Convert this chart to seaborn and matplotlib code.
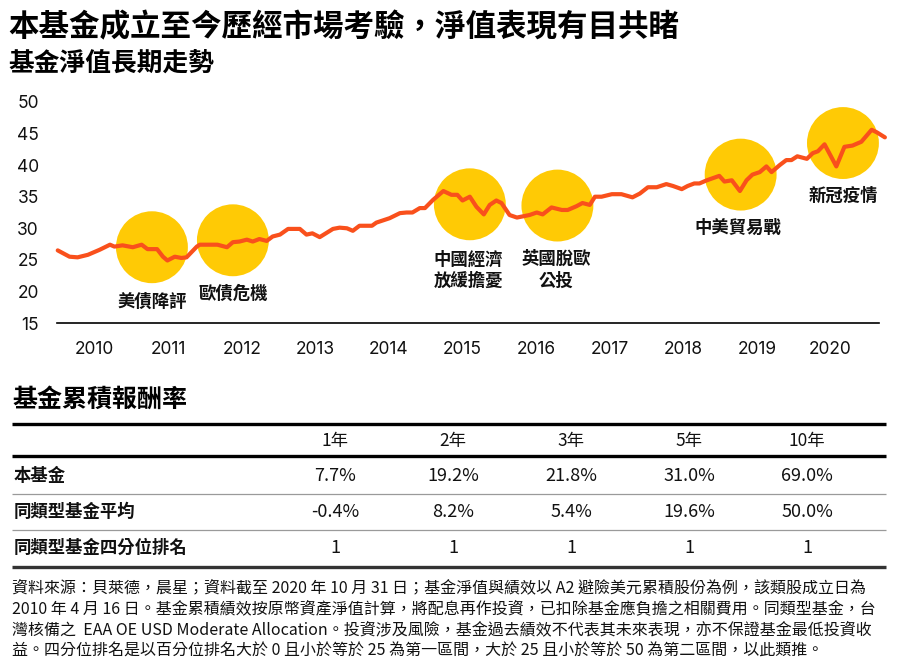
import numpy as np
import pandas as pd
import matplotlib.pyplot as plt
import seaborn as sns
from matplotlib.lines import Line2D

# fund NAV (x in chart years)
nav_year = [2010.00, 2010.16, 2010.27, 2010.41, 2010.57, 2010.71, 2010.77, 2010.88,
            2011.02, 2011.14, 2011.22, 2011.35, 2011.43, 2011.49, 2011.59, 2011.68,
            2011.75, 2011.89, 2011.93, 2012.17, 2012.30, 2012.38, 2012.47, 2012.57,
            2012.65, 2012.74, 2012.84, 2012.92, 2013.02, 2013.13, 2013.29, 2013.38,
            2013.46, 2013.56, 2013.74, 2013.83, 2013.93, 2014.01, 2014.10, 2014.27,
            2014.33, 2014.51, 2014.65, 2014.74, 2014.82, 2014.92, 2014.99, 2015.10,
            2015.24, 2015.35, 2015.43, 2015.50, 2015.60, 2015.69, 2015.79, 2015.87,
            2015.96, 2016.03, 2016.14, 2016.24, 2016.41, 2016.51, 2016.59, 2016.71,
            2016.85, 2016.93, 2017.05, 2017.13, 2017.23, 2017.30, 2017.39, 2017.53,
            2017.66, 2017.81, 2017.91, 2018.02, 2018.14, 2018.27, 2018.36, 2018.48,
            2018.56, 2018.65, 2018.72, 2018.82, 2018.99, 2019.06, 2019.16, 2019.27,
            2019.36, 2019.44, 2019.54, 2019.63, 2019.70, 2019.81, 2019.90, 2019.97,
            2020.05, 2020.18, 2020.26, 2020.33, 2020.42, 2020.58, 2020.69, 2020.80,
            2020.92, 2021.06, 2021.13, 2021.24]
nav_value = [26.5, 25.5, 25.4, 25.8, 26.6, 27.4, 27.1, 27.3,
             27.0, 27.4, 26.7, 26.7, 25.5, 24.9, 25.5, 25.3,
             25.4, 27.1, 27.4, 27.4, 27.0, 27.8, 27.9, 28.2,
             27.9, 28.3, 28.0, 28.7, 29.0, 29.9, 29.9, 29.0,
             29.2, 28.6, 29.9, 30.1, 30.0, 29.6, 30.4, 30.4,
             30.9, 31.6, 32.4, 32.5, 32.5, 33.2, 33.2, 34.5,
             35.9, 35.3, 35.3, 34.4, 35.0, 33.4, 32.2, 33.7,
             34.4, 34.0, 32.1, 31.7, 32.1, 32.5, 32.2, 33.3,
             32.9, 32.9, 33.5, 34.0, 33.7, 35.0, 35.0, 35.4,
             35.4, 34.9, 35.5, 36.5, 36.5, 37.0, 36.7, 36.2,
             36.7, 37.1, 37.1, 37.6, 38.3, 37.4, 37.6, 35.9,
             37.6, 38.5, 38.9, 39.8, 38.9, 40.0, 40.8, 40.8,
             41.4, 41.0, 41.9, 42.2, 43.3, 39.8, 42.9, 43.1,
             43.7, 45.6, 45.2, 44.4]

years = [2010, 2011, 2012, 2013, 2014, 2015, 2016, 2017, 2018, 2019, 2020]

event_names = ['美債降評', '歐債危機', '中國經濟\n放緩擔憂', '英國脫歐\n公投', '中美貿易戰', '新冠疫情']
event_year = [2011.28, 2012.38, 2015.60, 2016.79, 2019.28, 2020.67]
event_value = [27.0, 28.1, 33.8, 33.6, 38.5, 43.5]
label_year = [2011.28, 2012.38, 2015.58, 2016.77, 2019.24, 2020.67]
label_value = [18.3, 19.6, 23.4, 23.4, 30.0, 35.2]

periods = ['1年', '2年', '3年', '5年', '10年']
row_names = ['本基金', '同類型基金平均', '同類型基金四分位排名']
fund_ret = [7.7, 19.2, 21.8, 31.0, 69.0]
peer_avg = [-0.4, 8.2, 5.4, 19.6, 50.0]
quartile = [1, 1, 1, 1, 1]

footnote = [
    '資料來源：貝萊德，晨星；資料截至 2020 年 10 月 31 日；基金淨值與績效以 A2 避險美元累積股份為例，該類股成立日為',
    '2010 年 4 月 16 日。基金累積績效按原幣資產淨值計算，將配息再作投資，已扣除基金應負擔之相關費用。同類型基金，台',
    '灣核備之  EAA OE USD Moderate Allocation。投資涉及風險，基金過去績效不代表其未來表現，亦不保證基金最低投資收',
    '益。四分位排名是以百分位排名大於 0 且小於等於 25 為第一區間，大於 25 且小於等於 50 為第二區間，以此類推。',
]

LINE = '#F9501C'
GOLD = '#FFCA05'

sns.set_theme(style='white')
plt.rcParams['font.family'] = ['Noto Sans CJK TC', 'DejaVu Sans']

W, H = 900, 670
fig = plt.figure(figsize=(9, 6.7), dpi=100)


def px(x, y):
    # pixel position (from top-left) -> figure fraction
    return x / W, 1 - y / H


# titles
fig.text(*px(8, 27), '本基金成立至今歷經市場考驗，淨值表現有目共睹', fontsize=22,
         fontweight='heavy', va='center', ha='left', color='black')
fig.text(*px(8, 64), '基金淨值長期走勢', fontsize=18.5, fontweight='bold',
         va='center', ha='left', color='black')

# chart
ax = fig.add_axes([57 / W, 1 - 323 / H, 822 / W, 221 / H])
nav = pd.DataFrame({'year': nav_year, 'nav': nav_value})
sns.scatterplot(x=event_year, y=event_value, s=2680, color=GOLD, edgecolor='none',
                linewidth=0, ax=ax, zorder=1, clip_on=False)
sns.lineplot(data=nav, x='year', y='nav', color=LINE, linewidth=3, ax=ax,
             zorder=2, clip_on=False)
for name, xx, yy in zip(event_names, label_year, label_value):
    ax.text(xx, yy, name, ha='center', va='center', fontsize=12.5,
            fontweight='bold', color='#111111', linespacing=1.25)

ax.set_xlim(2009.99, 2021.16)
ax.set_ylim(15, 50)
ax.set_yticks([15, 20, 25, 30, 35, 40, 45, 50])
ax.set_xticks([y + 0.5 for y in years])
ax.set_xticklabels([str(y) for y in years])
ax.tick_params(axis='x', length=0, pad=13, labelsize=12.5, colors='#111111')
ax.tick_params(axis='y', length=0, pad=13, labelsize=12.5, colors='#111111')
for t in ax.get_xticklabels() + ax.get_yticklabels():
    t.set_fontfamily('Inter')
ax.set_xlabel('')
ax.set_ylabel('')
for s in ['left', 'top', 'right']:
    ax.spines[s].set_visible(False)
ax.spines['bottom'].set_color('black')
ax.spines['bottom'].set_linewidth(1.2)
ax.grid(False)

# table
fig.text(*px(12, 400), '基金累積報酬率', fontsize=18, fontweight='bold',
         va='center', ha='left', color='black')


def hline(y, lw, color):
    x0, y0 = px(12, y)
    x1, _ = px(886, y)
    fig.add_artist(Line2D([x0, x1], [y0, y0], transform=fig.transFigure,
                          linewidth=lw, color=color, solid_capstyle='butt'))


hline(424, 2.4, 'black')
hline(456, 2.4, 'black')
hline(494, 0.9, '#9a9a9a')
hline(530, 0.9, '#9a9a9a')
hline(567, 2.4, '#333333')

col_x = [335, 453, 571, 689, 807]
for cx, p in zip(col_x, periods):
    fig.text(*px(cx, 441), p, fontsize=12.5, fontweight='light', ha='center',
             va='center', color='#111111')

rows = [[f'{v:.1f}%' for v in fund_ret],
        [f'{v:.1f}%' for v in peer_avg],
        [str(v) for v in quartile]]
row_y = [476, 512, 548]
for name, vals, ry in zip(row_names, rows, row_y):
    fig.text(*px(14, ry), name, fontsize=12.5, fontweight='bold', ha='left',
             va='center', color='#111111')
    for cx, v in zip(col_x, vals):
        fig.text(*px(cx, ry), v, fontsize=13, fontweight='light', ha='center',
                 va='center', color='#111111')

# footnote
for i, line in enumerate(footnote):
    fig.text(*px(12, 588 + i * 21), line, fontsize=11.5, ha='left', va='center',
             color='#111111')

fig.savefig('out.png', dpi=100)
